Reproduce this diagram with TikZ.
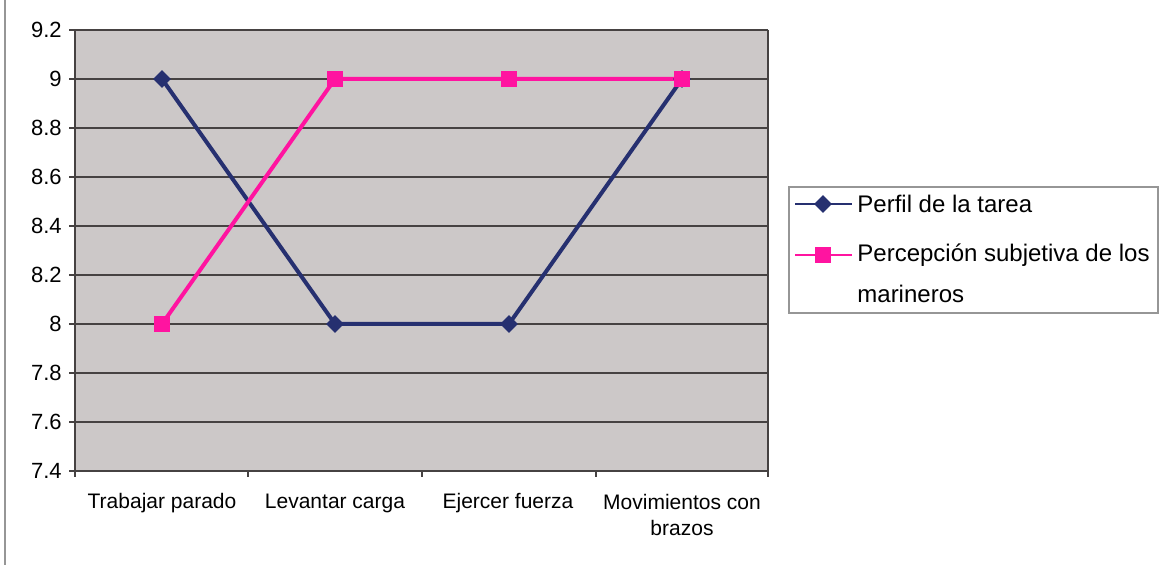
\documentclass[tikz,border=0pt]{standalone}
\usepackage{fontspec}
\setmainfont{Liberation Sans}
\usetikzlibrary{shapes.geometric}
\definecolor{plotbg}{RGB}{204,200,200}
\definecolor{gridc}{RGB}{70,66,66}
\definecolor{navy}{RGB}{38,48,112}
\definecolor{pinkc}{RGB}{255,20,160}
\definecolor{framec}{RGB}{150,150,150}
\tikzset{
  navymark/.style={diamond, fill=navy, inner sep=0pt, minimum width=9pt, minimum height=9pt},
  pinkmark/.style={rectangle, fill=pinkc, inner sep=0pt, minimum width=8pt, minimum height=8pt},
  navyline/.style={draw=navy, line width=2pt},
  pinkline/.style={draw=pinkc, line width=2pt},
  gridline/.style={draw=gridc, line width=0.8pt},
  ylab/.style={anchor=east, font=\fontsize{11}{13}\selectfont, inner sep=0pt},
  xlab/.style={anchor=center, align=center, font=\fontsize{10.5}{13}\selectfont, inner sep=0pt},
  leglab/.style={anchor=west, align=left, font=\fontsize{12}{20.5}\selectfont, inner sep=0pt},
}
\begin{document}
\begin{tikzpicture}[x=0.5pt,y=-0.5pt]
\useasboundingbox (0,0) rectangle (1160,565);
\fill[white] (0,0) rectangle (1160,565);
\draw[framec, line width=0.6pt] (5,0) -- (5,565);
% plot area
\fill[plotbg] (75,30) rectangle (768,471);
\foreach \i in {0,...,8} {
  \draw[gridline] (75,{30+\i*49}) -- (768,{30+\i*49});
}
\draw[gridc, line width=0.6pt] (768,30) -- (768,471);
\draw[gridc, line width=1pt] (75,30) -- (75,471) -- (768,471);
% y ticks and labels
\foreach \v [count=\i from 0] in {9.2,9,8.8,8.6,8.4,8.2,8,7.8,7.6,7.4} {
  \draw[gridc, line width=0.8pt] (69,{30+\i*49}) -- (75,{30+\i*49});
  \node[ylab] (y\i) at (62,{30+\i*49}) {\v};
}
% x ticks
\foreach \x in {75,248,422,596,768} {
  \draw[gridc, line width=0.8pt] (\x,471) -- (\x,477);
}
% category labels
\node[xlab] (c1) at (162,503) {Trabajar parado};
\node[xlab] (c2) at (335,503) {Levantar carga};
\node[xlab] (c3) at (508,503) {Ejercer fuerza};
\node[xlab] (c4) at (682,515) {Movimientos con\\brazos};
% data: Perfil de la tarea 9,8,8,9 ; Percepcion 8,9,9,9
\coordinate (a1) at (162,79);
\coordinate (a2) at (335,324);
\coordinate (a3) at (509,324);
\coordinate (a4) at (682,79);
\coordinate (b1) at (162,324);
\coordinate (b2) at (335,79);
\coordinate (b3) at (509,79);
\coordinate (b4) at (682,79);
\draw[navyline] (a1) -- (a2) -- (a3) -- (a4);
\draw[pinkline] (b1) -- (b2) -- (b3) -- (b4);
\foreach \n in {a1,a2,a3,a4} { \node[navymark] at (\n) {}; }
\foreach \n in {b1,b2,b3,b4} { \node[pinkmark] at (\n) {}; }
% legend
\draw[framec, line width=0.6pt] (789,187) rectangle (1158,313);
\coordinate (l1a) at (795,204);
\coordinate (l1b) at (852,204);
\coordinate (l2a) at (795,255);
\coordinate (l2b) at (852,255);
\draw[draw=navy, line width=1.3pt] (l1a) -- (l1b);
\draw[draw=pinkc, line width=1.3pt] (l2a) -- (l2b);
\node[navymark] (m1) at (823,204) {};
\node[pinkmark] (m2) at (823,255) {};
\node[leglab] (t1) at (857,204) {Perfil de la tarea};
\node[leglab, anchor=north west] (t2) at (857,243) {Percepción subjetiva de los\\marineros};
\end{tikzpicture}
\end{document}
